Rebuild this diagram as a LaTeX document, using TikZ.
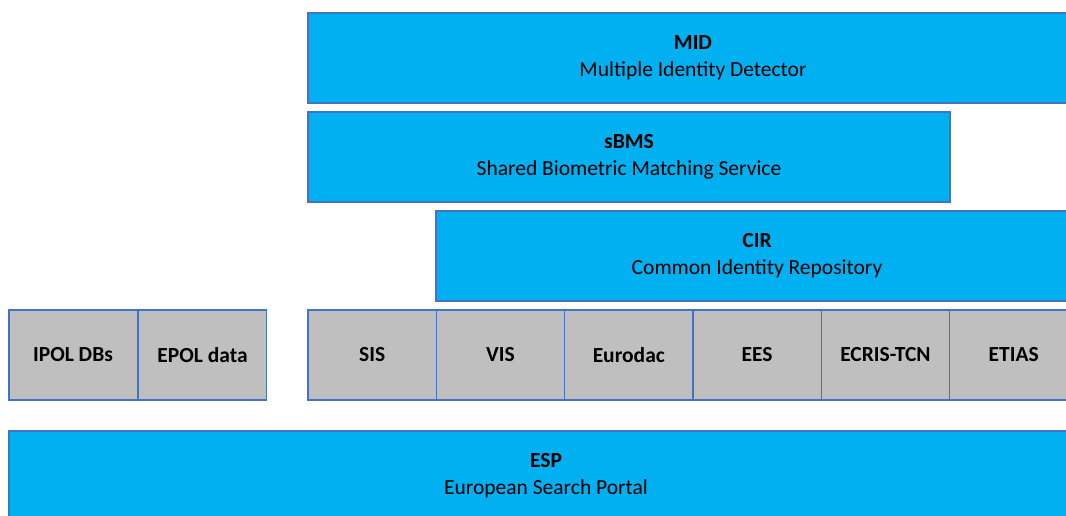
\documentclass[tikz,border=0pt]{standalone}
\usepackage{fontspec}
\setmainfont{Carlito}
\usepackage{tikz}

\definecolor{layerblue}{HTML}{00B0F0}
\definecolor{sysgrey}{HTML}{BFBFBF}
\definecolor{edgeblue}{HTML}{4472C4}

\begin{document}
\begin{tikzpicture}
[x=1pt,y=-1pt,
layer/.style={rectangle,draw=edgeblue,line width=1.3pt,fill=layerblue,align=center,
  font=\fontsize{21.5}{27}\selectfont,minimum height=90pt,inner sep=0pt},
sysbox/.style={rectangle,draw=edgeblue,line width=1.3pt,fill=sysgrey,
  font=\fontsize{21.5}{25}\selectfont\bfseries,minimum height=90pt,minimum width=128.3pt,inner sep=0pt},
]
\useasboundingbox (0,0) rectangle (1066,516);
\clip (0,0) rectangle (1066,516);

% upper layers
\node[layer,minimum width=770pt] (mid) at (693,58) {\textbf{MID}\\Multiple Identity Detector};
\node[layer,minimum width=642pt] (sbms) at (629,157) {\textbf{sBMS}\\Shared Biometric Matching Service};
\node[layer,minimum width=642pt] (cir) at (757,256) {\textbf{CIR}\\Common Identity Repository};

% police data
\node[sysbox] (ipol) at (73,355) {IPOL DBs};
\node[sysbox,anchor=west] (epol) at (ipol.east) {EPOL data};

% eu systems
\foreach \name/\lbl [count=\i from 0] in {sis/SIS,vis/VIS,eurodac/Eurodac,ees/EES,ecris/ECRIS-TCN,etias/ETIAS}
  \node[sysbox] (\name) at (372.2+128.3*\i,355) {\lbl};

% portal
\node[layer,minimum width=1074pt] (esp) at (546,476) {\textbf{ESP}\\European Search Portal};
\end{tikzpicture}
\end{document}
